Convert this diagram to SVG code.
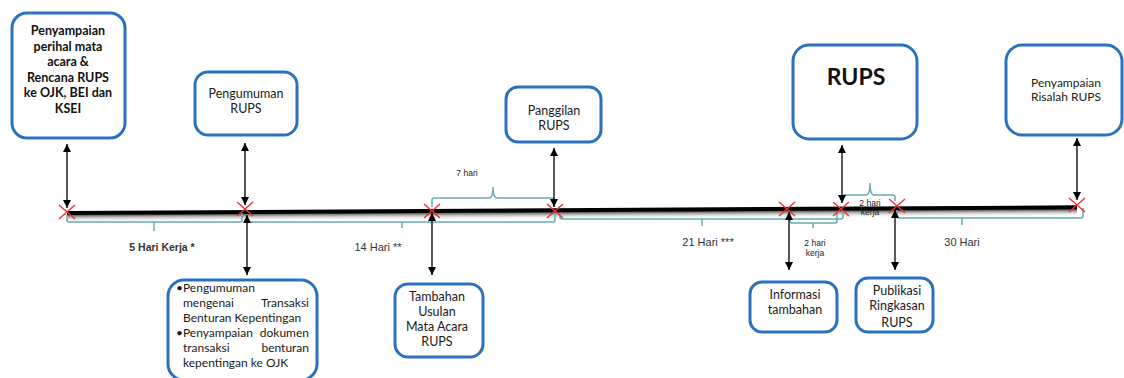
<svg xmlns="http://www.w3.org/2000/svg" width="1124" height="378" viewBox="0 0 1124 378">
<style>
.box{fill:#fff;stroke:#2a72c0;stroke-width:3}
.t{font-family:Lato,"Liberation Sans",sans-serif;font-size:12.5px;fill:#1a1a1a;text-anchor:middle}
.tb{font-family:Lato,"Liberation Sans",sans-serif;font-size:12.5px;font-weight:bold;fill:#111;text-anchor:middle}
.tl{font-family:Lato,"Liberation Sans",sans-serif;font-size:12px;fill:#1a1a1a}
.lab{font-family:"Liberation Sans",Arial,sans-serif;font-size:11px;fill:#333;text-anchor:middle}
.sm{font-family:"Liberation Sans",Arial,sans-serif;font-size:8.5px;fill:#222;text-anchor:middle}
.br{fill:none;stroke:#6aaab2;stroke-width:1.5}
.ar{stroke:#000;stroke-width:1.3;fill:none;marker-start:url(#ah);marker-end:url(#ah)}
.x{stroke:#f03030;stroke-width:1.4;fill:none}
</style>
<defs>
<marker id="ah" viewBox="0 0 10 10" refX="10" refY="5" markerWidth="8" markerHeight="9" markerUnits="userSpaceOnUse" orient="auto-start-reverse">
<path d="M0,0 L10,5 L0,10 z" fill="#000"/>
</marker>
<linearGradient id="sh" x1="0" y1="0" x2="0" y2="1">
<stop offset="0" stop-color="#000" stop-opacity="0.75"/>
<stop offset="0.5" stop-color="#888" stop-opacity="0.35"/>
<stop offset="1" stop-color="#fff" stop-opacity="0"/>
</linearGradient>
</defs>

<g id="timeline">
<g transform="rotate(-0.32 67 213)">
<rect x="67" y="214.5" width="1010" height="8" fill="url(#sh)"/>
<rect x="67" y="211" width="1010" height="4" fill="#000"/>
</g>
</g>

<g id="brackets">
<path class="br" d="M67,215 V220 Q67,222 69,222 H240 Q242,222 242,220 V213 M154,222 V231"/>
<path class="br" d="M247,214 V220 Q247,222 249,222 H553 Q555,222 555,220 V213 M402,222 V228"/>
<path class="br" d="M560,213 V217 Q560,219 562,219 H841 Q843,219 843,217 V211 M702,219 V226"/>
<path class="br" d="M790,213 V221 Q790,223 792,223 H835 Q837,223 837,221 V213 M813,223 V228"/>
<path class="br" d="M897,210 V216 Q897,218 899,218 H1081 Q1083,218 1083,216 V208 M962,218 V225"/>
<path class="br" d="M432,207 V200 Q432,198 434,198 H489 Q493,198 493,187 Q493,198 497,198 H552 Q554,198 554,200 V207"/>
<path class="br" d="M843,201 V197 Q843,195 845,195 H866 Q870,195 870,183 Q870,195 874,195 H893 Q895,195 895,197 V201"/>
</g>

<g id="connectors">
<line class="ar" x1="67" y1="144" x2="67" y2="208"/>
<line class="ar" x1="245" y1="143" x2="245" y2="205"/>
<line class="ar" x1="247" y1="215" x2="247" y2="275"/>
<line class="ar" x1="432" y1="213" x2="432" y2="275"/>
<line class="ar" x1="554" y1="148" x2="554" y2="207"/>
<line class="ar" x1="789" y1="212" x2="789" y2="270"/>
<line class="ar" x1="842" y1="145" x2="842" y2="203"/>
<line class="ar" x1="895" y1="210" x2="895" y2="270"/>
<line class="ar" x1="1077" y1="138" x2="1077" y2="200"/>
</g>

<g id="marks">
<path class="x" d="M59,205 L75,219 M75,205 L59,219"/>
<path class="x" d="M237,202 L253,216 M253,202 L237,216"/>
<path class="x" d="M424,204 L440,218 M440,204 L424,218"/>
<path class="x" d="M547,204 L563,218 M563,204 L547,218"/>
<path class="x" d="M779,202 L795,216 M795,202 L779,216"/>
<path class="x" d="M833,202 L849,216 M849,202 L833,216"/>
<path class="x" d="M889,199 L905,213 M905,199 L889,213"/>
<path class="x" d="M1069,198 L1085,212 M1085,198 L1069,212"/>
</g>

<g id="labels">
<text class="lab" x="162" y="251" style="font-weight:bold;font-size:10.5px">5 Hari Kerja *</text>
<text class="lab" x="378" y="251">14 Hari **</text>
<text class="lab" x="708" y="246">21 Hari ***</text>
<text class="lab" x="962" y="246">30 Hari</text>
<text class="sm" x="467" y="176">7 hari</text>
<text class="sm" x="870" y="206">2 hari</text>
<text class="sm" x="870" y="215">kerja</text>
<text class="sm" x="815" y="246">2 hari</text>
<text class="sm" x="815" y="256">kerja</text>
</g>

<g id="n-penyampaian-perihal">
<rect class="box" x="12" y="13" width="113" height="125" rx="15"/>
<text class="tb" x="68" y="35">Penyampaian</text>
<text class="tb" x="68" y="51">perihal mata</text>
<text class="tb" x="68" y="66">acara &amp;</text>
<text class="tb" x="68" y="82">Rencana RUPS</text>
<text class="tb" x="68" y="97">ke OJK, BEI dan</text>
<text class="tb" x="68" y="113">KSEI</text>
</g>

<g id="n-pengumuman">
<rect class="box" x="195" y="72" width="102" height="63" rx="13"/>
<text class="t" x="246" y="98">Pengumuman</text>
<text class="t" x="246" y="113">RUPS</text>
</g>

<g id="n-panggilan">
<rect class="box" x="506" y="87" width="95" height="55" rx="12"/>
<text class="t" x="554" y="115">Panggilan</text>
<text class="t" x="554" y="130">RUPS</text>
</g>

<g id="n-rups">
<rect class="box" x="793" y="45" width="124" height="94" rx="16"/>
<text class="tb" x="856" y="85" style="font-size:23px">RUPS</text>
</g>

<g id="n-risalah">
<rect class="box" x="1006" y="45" width="116" height="90" rx="16"/>
<text class="t" x="1066" y="87" style="font-size:12px">Penyampaian</text>
<text class="t" x="1066" y="101" style="font-size:12px">Risalah RUPS</text>
</g>

<g id="n-transaksi">
<rect class="box" x="168" y="280" width="149" height="100" rx="16"/>
<text class="tl" x="176" y="292">•Pengumuman</text>
<text class="tl" x="183" y="307">mengenai</text>
<text class="tl" x="309" y="307" text-anchor="end">Transaksi</text>
<text class="tl" x="183" y="322">Benturan Kepentingan</text>
<text class="tl" x="176" y="337">•Penyampaian</text>
<text class="tl" x="309" y="337" text-anchor="end">dokumen</text>
<text class="tl" x="183" y="352">transaksi</text>
<text class="tl" x="309" y="352" text-anchor="end">benturan</text>
<text class="tl" x="183" y="367">kepentingan ke OJK</text>
</g>

<g id="n-tambahan">
<rect class="box" x="395" y="284" width="88" height="73" rx="13"/>
<text class="t" x="437" y="301">Tambahan</text>
<text class="t" x="437" y="316">Usulan</text>
<text class="t" x="437" y="331">Mata Acara</text>
<text class="t" x="437" y="346">RUPS</text>
</g>

<g id="n-informasi">
<rect class="box" x="750" y="282" width="87" height="50" rx="12"/>
<text class="t" x="795" y="299">Informasi</text>
<text class="t" x="795" y="314">tambahan</text>
</g>

<g id="n-publikasi">
<rect class="box" x="856" y="278" width="77" height="54" rx="12"/>
<text class="t" x="897" y="295">Publikasi</text>
<text class="t" x="897" y="310">Ringkasan</text>
<text class="t" x="897" y="327">RUPS</text>
</g>
</svg>
